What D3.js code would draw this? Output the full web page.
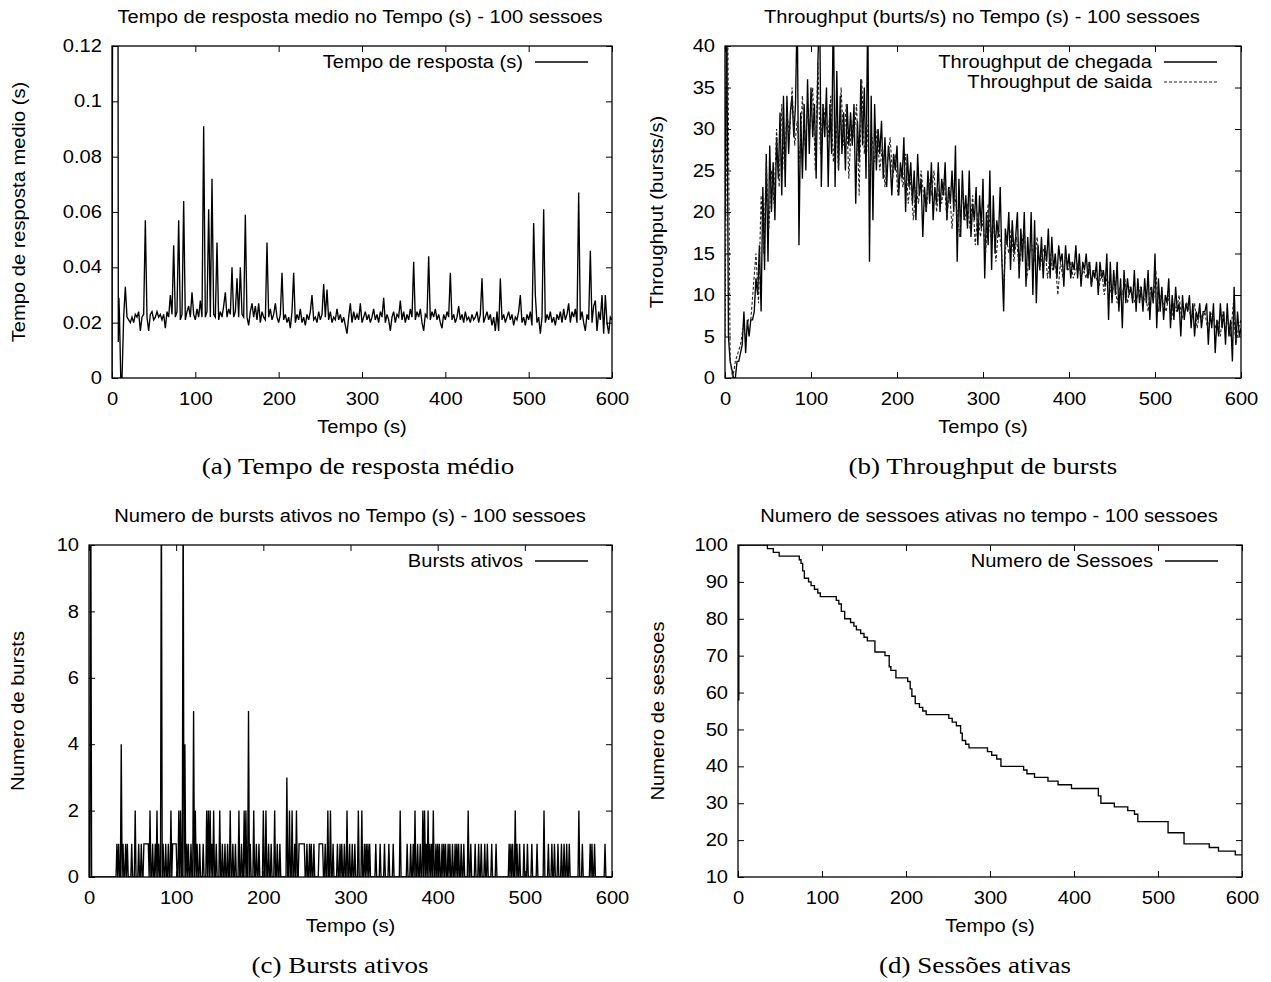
<!DOCTYPE html>
<html lang="pt">
<head>
<meta charset="UTF-8" />
<title>Simulacao - 100 sessoes</title>
<script src="https://cdn.jsdelivr.net/npm/d3@7"></script>
<style>
  body { margin: 0; background: #fff; }
  text { font-family: "Liberation Sans", Arial, sans-serif; font-size: 17.5px; fill: #000; }
  .caption { font-family: "Liberation Serif", "Times New Roman", serif; font-size: 22.5px; }
  .frame { fill: none; stroke: #000; stroke-width: 1.3px; }
  .tick line { stroke: #000; stroke-width: 1px; }
  .domain { display: none; }
  .serie { fill: none; stroke: #000; stroke-width: 1.35px; }
  .tracejada { stroke-dasharray: 3, 2; stroke-width: 1.1px; stroke: #222; }
</style>
</head>
<body>
<script>

// eixo x comum (Tempo em s)
var tempoTicks = [0, 100, 200, 300, 400, 500, 600];

// (a) tempo de resposta medio, em ms; inicio irregular e depois de 2 em 2 s a partir de t=14
var respostaInicio = [[0, 0], [1, 200], [7, 200], [7.6, 13], [8.3, 29], [9, 22], [10.5, 0], [12, 0]];
var respostaMs = [
  22,33,22,21,20, 22,20,23,22,24,
  17,22,23,57,22, 17,23,24,21,22,
  24,22,23,21,23, 18,24,22,30,23,
  48,22,24,57,21, 23,64,21,24,26,
  22,31,23,21,25, 22,28,22,91,22,
  24,61,22,72,23, 22,49,21,24,22,
  26,31,22,25,23, 40,22,24,36,22,
  40,23,22,59,22, 19,24,27,22,26,
  21,27,20,24,22, 21,49,22,25,21,
  23,27,22,20,23, 38,21,23,20,22,
  18,24,38,20,23, 21,25,20,22,19,
  23,21,24,30,21, 22,20,24,21,23,
  34,22,32,21,24, 20,22,21,25,21,
  23,20,22,19,16, 22,27,20,24,21,
  23,21,27,20,22, 24,21,23,20,22,
  25,21,23,20,24, 22,29,20,23,21,
  17,22,24,20,23, 22,28,21,24,20,
  23,21,25,22,42, 21,24,22,25,20,
  17,23,22,44,21, 24,22,25,21,23,
  20,18,23,21,24, 22,38,21,23,20,
  22,26,21,23,20, 24,21,22,20,23,
  21,22,24,20,23, 36,20,22,24,21,
  23,19,22,17,24, 17,36,21,23,20,
  22,24,21,23,19, 22,21,24,30,20,
  22,19,23,21,24, 19,56,30,20,22,
  16,22,61,20,23, 21,24,20,22,19,
  23,21,24,20,25, 21,23,27,20,24,
  22,25,20,67,21, 24,20,17,23,21,
  46,20,26,28,17, 24,21,30,16,30,
  20,16,22,21
];
var respostaTicks = [0, 0.02, 0.04, 0.06, 0.08, 0.1, 0.12];

// (b) throughput de chegada (de 2 em 2 s) e de saida (de 3 em 3 s)
var chegada = [
  19,45,5,2,1,0,0,2,2,3,      4,8,3,7,5,7,7,8,12,10,
  16,8,23,13,27,14,28,20,26,19, 29,24,32,22,34,23,34,27,32,34,
  29,33,45,16,32,24,33,25,36,27, 35,29,33,24,38,45,23,33,29,35,
  23,33,27,45,23,37,25,34,27,32, 25,33,28,32,28,33,21,31,26,36,
  28,35,24,45,14,34,19,33,25,30, 27,31,24,29,23,28,26,22,27,25,
  28,22,26,24,29,20,27,23,26,21, 25,19,27,22,24,17,23,20,25,21,
  26,19,23,21,26,20,24,22,26,19, 23,21,25,20,28,14,24,17,25,19,
  22,18,25,17,21,19,23,16,22,18, 24,12,20,16,25,13,22,15,19,17,
  23,14,8,18,16,20,13,19,15,17, 20,12,18,14,20,11,17,13,20,10,
  19,9,16,13,17,12,16,14,18,12, 17,13,15,12,16,14,15,11,16,13,
  15,12,14,13,16,12,15,11,14,13, 15,12,14,11,13,12,14,10,14,12,
  13,11,15,7,14,9,13,10,14,8,   12,6,13,9,12,10,11,9,13,8,
  12,9,11,8,12,9,13,7,11,9,     15,6,12,8,11,7,10,9,12,6,
  10,7,11,8,9,5,10,7,9,8,       10,6,9,5,8,7,9,6,8,8,
  9,4,8,6,9,3,7,5,9,6,          8,4,9,5,7,2,11,4,8,5,
  6
];
var saida = [
  5,45,2,0,2,3,4,6,5,7,         7,11,15,9,22,15,26,18,25,21,
  30,23,33,25,32,29,35,28,31,26, 34,28,32,30,35,25,38,27,33,31,
  29,34,26,31,25,35,28,33,24,31, 29,33,22,36,27,31,24,29,26,30,
  25,28,23,26,29,24,27,22,25,23, 27,21,24,19,23,21,25,22,20,24,
  22,25,20,23,21,24,19,23,18,22, 20,17,23,19,21,18,22,16,20,17,
  19,15,21,17,19,14,18,16,11,17, 15,18,14,17,13,16,18,12,15,16,
  14,17,13,15,16,12,15,13,14,10, 14,12,15,13,14,12,13,14,12,13,
  12,14,11,13,12,11,13,10,12,11, 10,12,9,11,10,12,9,11,10,9,
  10,11,9,10,8,11,9,13,8,10,    9,8,10,7,9,8,10,7,8,9,
  8,7,9,6,8,7,8,6,7,8,          6,7,5,8,6,7,5,9,4,6,
  7
];
var throughputTicks = [0, 5, 10, 15, 20, 25, 30, 35, 40];

// (c) bursts ativos: instantes (s) com valor diferente de zero
var burstsAtivos = [
  [0,2],[2,12],[32,1],[34,1],[37,4],[39,1],[42,1],[44,1],[49,1],[53,2],[57,1],[60,1],
  [63,1],[64,1],[65,1],[66,1],[67,1],[68,1],[70,2],[73,1],[76,1],[78,2],[80,1],[83,12],
  [85,1],[88,1],[91,1],[94,2],[96,1],[97,1],[98,1],[99,1],[100,1],[103,2],[105,2],[108,12],
  [110,4],[112,1],[114,1],[117,1],[120,5],[122,2],[124,1],[127,1],[131,1],[135,2],[137,2],
  [139,2],[141,1],[143,2],[146,1],[150,2],[153,1],[156,1],[159,1],[162,2],[165,1],[168,1],
  [172,2],[175,1],[178,2],[180,2],[183,5],[185,1],[189,2],[192,1],[195,1],[200,2],[203,2],
  [206,1],[209,1],[213,2],[216,1],[219,1],[227,3],[230,2],[233,2],[236,1],[238,2],[241,1],
  [242,1],[243,1],[244,1],[245,1],[246,1],[247,1],[250,1],[253,1],[255,1],[258,1],[264,1],
  [265,1],[266,1],[267,1],[268,1],[271,1],[274,2],[277,2],[280,1],[285,1],[288,1],[290,1],
  [293,1],[296,2],[299,1],[302,1],[305,1],[309,2],[313,2],[316,1],[318,1],[320,1],[322,1],
  [329,1],[334,1],[339,1],[344,1],[349,1],[357,2],[365,1],[369,1],[372,1],[374,2],[377,1],
  [380,1],[383,2],[385,2],[387,1],[389,2],[391,1],[393,1],[395,2],[398,1],[400,1],[402,1],
  [405,1],[407,1],[409,1],[412,1],[414,1],[417,1],[420,1],[422,1],[424,1],[427,1],[430,1],
  [435,2],[438,1],[443,1],[447,1],[450,1],[454,1],[457,1],[462,1],[467,1],[482,1],[484,1],
  [486,1],[489,2],[491,1],[494,1],[499,1],[503,1],[508,1],[514,1],[522,2],[527,1],[531,1],
  [534,1],[538,1],[542,1],[545,1],[548,1],[551,1],[562,2],[566,1],[575,1],[577,1],[580,1],
  [592,1]
];
var burstsTicks = [0, 2, 4, 6, 8, 10];

// (d) sessoes ativas: [inicio do degrau (s), sessoes]
var sessoes = [
  [0,58],[1,100],[35,99],[42,98],[49,97],[73,96],[75,95],[77,93],[79,91],[84,90],[87,89],
  [91,88],[95,87],[98,86],[117,85],[120,84],[123,82],[127,80],[134,79],[138,78],[141,77],
  [146,76],[150,75],[154,74],[163,71],[175,70],[180,67],[182,66],[188,64],[202,63],[205,61],
  [207,59],[211,57],[216,56],[220,55],[224,54],[251,53],[255,52],[260,51],[265,49],[267,47],
  [271,46],[275,45],[297,44],[302,43],[308,42],[313,40],[340,39],[344,38],[353,37],[369,36],
  [381,35],[397,34],[429,32],[432,30],[448,29],[464,28],[472,27],[476,25],[512,22],[531,19],
  [561,18],[572,17],[592,16],[600,16]
];
var sessoesTicks = [10, 20, 30, 40, 50, 60, 70, 80, 90, 100];

var svg = d3.select("body").append("svg")
  .attr("width", 1271)
  .attr("height", 982);

// texto um pouco mais largo, como na figura original
function alarga(sel, k) {
  sel.each(function() {
    var w = this.getComputedTextLength();
    d3.select(this).attr("textLength", w * k).attr("lengthAdjust", "spacingAndGlyphs");
  });
}

function painel(p) {
  var g = svg.append("g");
  var x = d3.scaleLinear().domain([0, 600]).range([p.left, p.right]);
  var y = d3.scaleLinear().domain(p.yDomain).range([p.bottom, p.top]);
  var tk = 6;

  g.append("g").attr("transform", "translate(0," + p.bottom + ")")
    .call(d3.axisBottom(x).tickValues(tempoTicks).tickSizeInner(-tk).tickSizeOuter(0).tickPadding(15).tickFormat(d3.format("d")));
  g.append("g").attr("transform", "translate(0," + p.top + ")")
    .call(d3.axisTop(x).tickValues(tempoTicks).tickSizeInner(-tk).tickSizeOuter(0).tickFormat(""));
  g.append("g").attr("transform", "translate(" + p.left + ",0)")
    .call(d3.axisLeft(y).tickValues(p.yTicks).tickSizeInner(-tk).tickSizeOuter(0).tickPadding(10).tickFormat(d3.format("~g")));
  g.append("g").attr("transform", "translate(" + p.right + ",0)")
    .call(d3.axisRight(y).tickValues(p.yTicks).tickSizeInner(-tk).tickSizeOuter(0).tickFormat(""));
  g.selectAll("g").attr("font-family", null).attr("font-size", null);

  var clipId = "clip" + p.id;
  svg.append("clipPath").attr("id", clipId).append("rect")
    .attr("x", p.left).attr("y", p.top)
    .attr("width", p.right - p.left).attr("height", p.bottom - p.top);

  var plot = g.append("g").attr("clip-path", "url(#" + clipId + ")");
  p.series.forEach(function(s) {
    var line = d3.line()
      .x(function(d) { return x(d[0]); })
      .y(function(d) { return y(d[1]); });
    if (s.step) line.curve(d3.curveStepAfter);
    plot.append("path")
      .datum(s.data)
      .attr("class", "serie" + (s.dashed ? " tracejada" : ""))
      .attr("d", line);
  });

  g.append("rect").attr("class", "frame")
    .attr("x", p.left).attr("y", p.top)
    .attr("width", p.right - p.left).attr("height", p.bottom - p.top);

  // legenda no canto superior direito
  p.series.forEach(function(s, i) {
    var ly = p.top + 16 + i * 20;
    g.append("text")
      .attr("x", p.right - 89).attr("y", ly).attr("dy", "0.35em")
      .attr("text-anchor", "end").text(s.name);
    g.append("line")
      .attr("class", "serie" + (s.dashed ? " tracejada" : ""))
      .attr("x1", p.right - 77).attr("x2", p.right - 24)
      .attr("y1", ly).attr("y2", ly);
  });

  var cx = (p.left + p.right) / 2;
  g.append("text").attr("x", p.titleX).attr("y", p.top - 29).attr("dy", "0.35em")
    .attr("text-anchor", "middle").text(p.title);
  g.append("text").attr("x", cx).attr("y", p.bottom + 49).attr("dy", "0.35em")
    .attr("text-anchor", "middle").text("Tempo (s)");
  g.append("text")
    .attr("transform", "translate(" + p.yLabelX + "," + (p.top + p.bottom) / 2 + ") rotate(-90)")
    .attr("dy", "0.35em").attr("text-anchor", "middle").text(p.yLabel);

  alarga(g.selectAll("text"), 1.15);

  var cap = svg.append("text").attr("class", "caption")
    .attr("x", p.captionX).attr("y", p.bottom + 96)
    .attr("text-anchor", "middle").text(p.caption);
  alarga(cap, 1.2);
}

painel({
  id: "a", left: 112, right: 612, top: 46, bottom: 378,
  yDomain: [0, 0.12], yTicks: respostaTicks,
  title: "Tempo de resposta medio no Tempo (s) - 100 sessoes", titleX: 360,
  yLabel: "Tempo de resposta medio (s)", yLabelX: 19,
  caption: "(a) Tempo de resposta médio", captionX: 358,
  series: [{
    name: "Tempo de resposta (s)",
    data: respostaInicio.map(function(d) { return [d[0], d[1] / 1000]; })
      .concat(respostaMs.map(function(v, i) { return [14 + 2 * i, v / 1000]; }))
  }]
});

painel({
  id: "b", left: 725, right: 1241, top: 46, bottom: 378,
  yDomain: [0, 40], yTicks: throughputTicks,
  title: "Throughput (burts/s) no Tempo (s) - 100 sessoes", titleX: 982,
  yLabel: "Throughput (bursts/s)", yLabelX: 657,
  caption: "(b) Throughput de bursts", captionX: 983,
  series: [
    { name: "Throughput de chegada", data: chegada.map(function(v, i) { return [2 * i, v]; }) },
    { name: "Throughput de saida", dashed: true, data: saida.map(function(v, i) { return [3 * i, v]; }) }
  ]
});

// serie completa de bursts, segundo a segundo
var burstsMap = new Map(burstsAtivos);
var burstsSerie = d3.range(0, 601).map(function(t) { return [t, burstsMap.get(t) || 0]; });

painel({
  id: "c", left: 89, right: 612, top: 545, bottom: 877,
  yDomain: [0, 10], yTicks: burstsTicks,
  title: "Numero de bursts ativos no Tempo (s) - 100 sessoes", titleX: 350,
  yLabel: "Numero de bursts", yLabelX: 18,
  caption: "(c) Bursts ativos", captionX: 340,
  series: [{ name: "Bursts ativos", data: burstsSerie }]
});

painel({
  id: "d", left: 738, right: 1242, top: 545, bottom: 877,
  yDomain: [10, 100], yTicks: sessoesTicks,
  title: "Numero de sessoes ativas no tempo - 100 sessoes", titleX: 989,
  yLabel: "Numero de sessoes", yLabelX: 658,
  caption: "(d) Sessões ativas", captionX: 975,
  series: [{ name: "Numero de Sessoes", step: true, data: sessoes }]
});

</script>
</body>
</html>
